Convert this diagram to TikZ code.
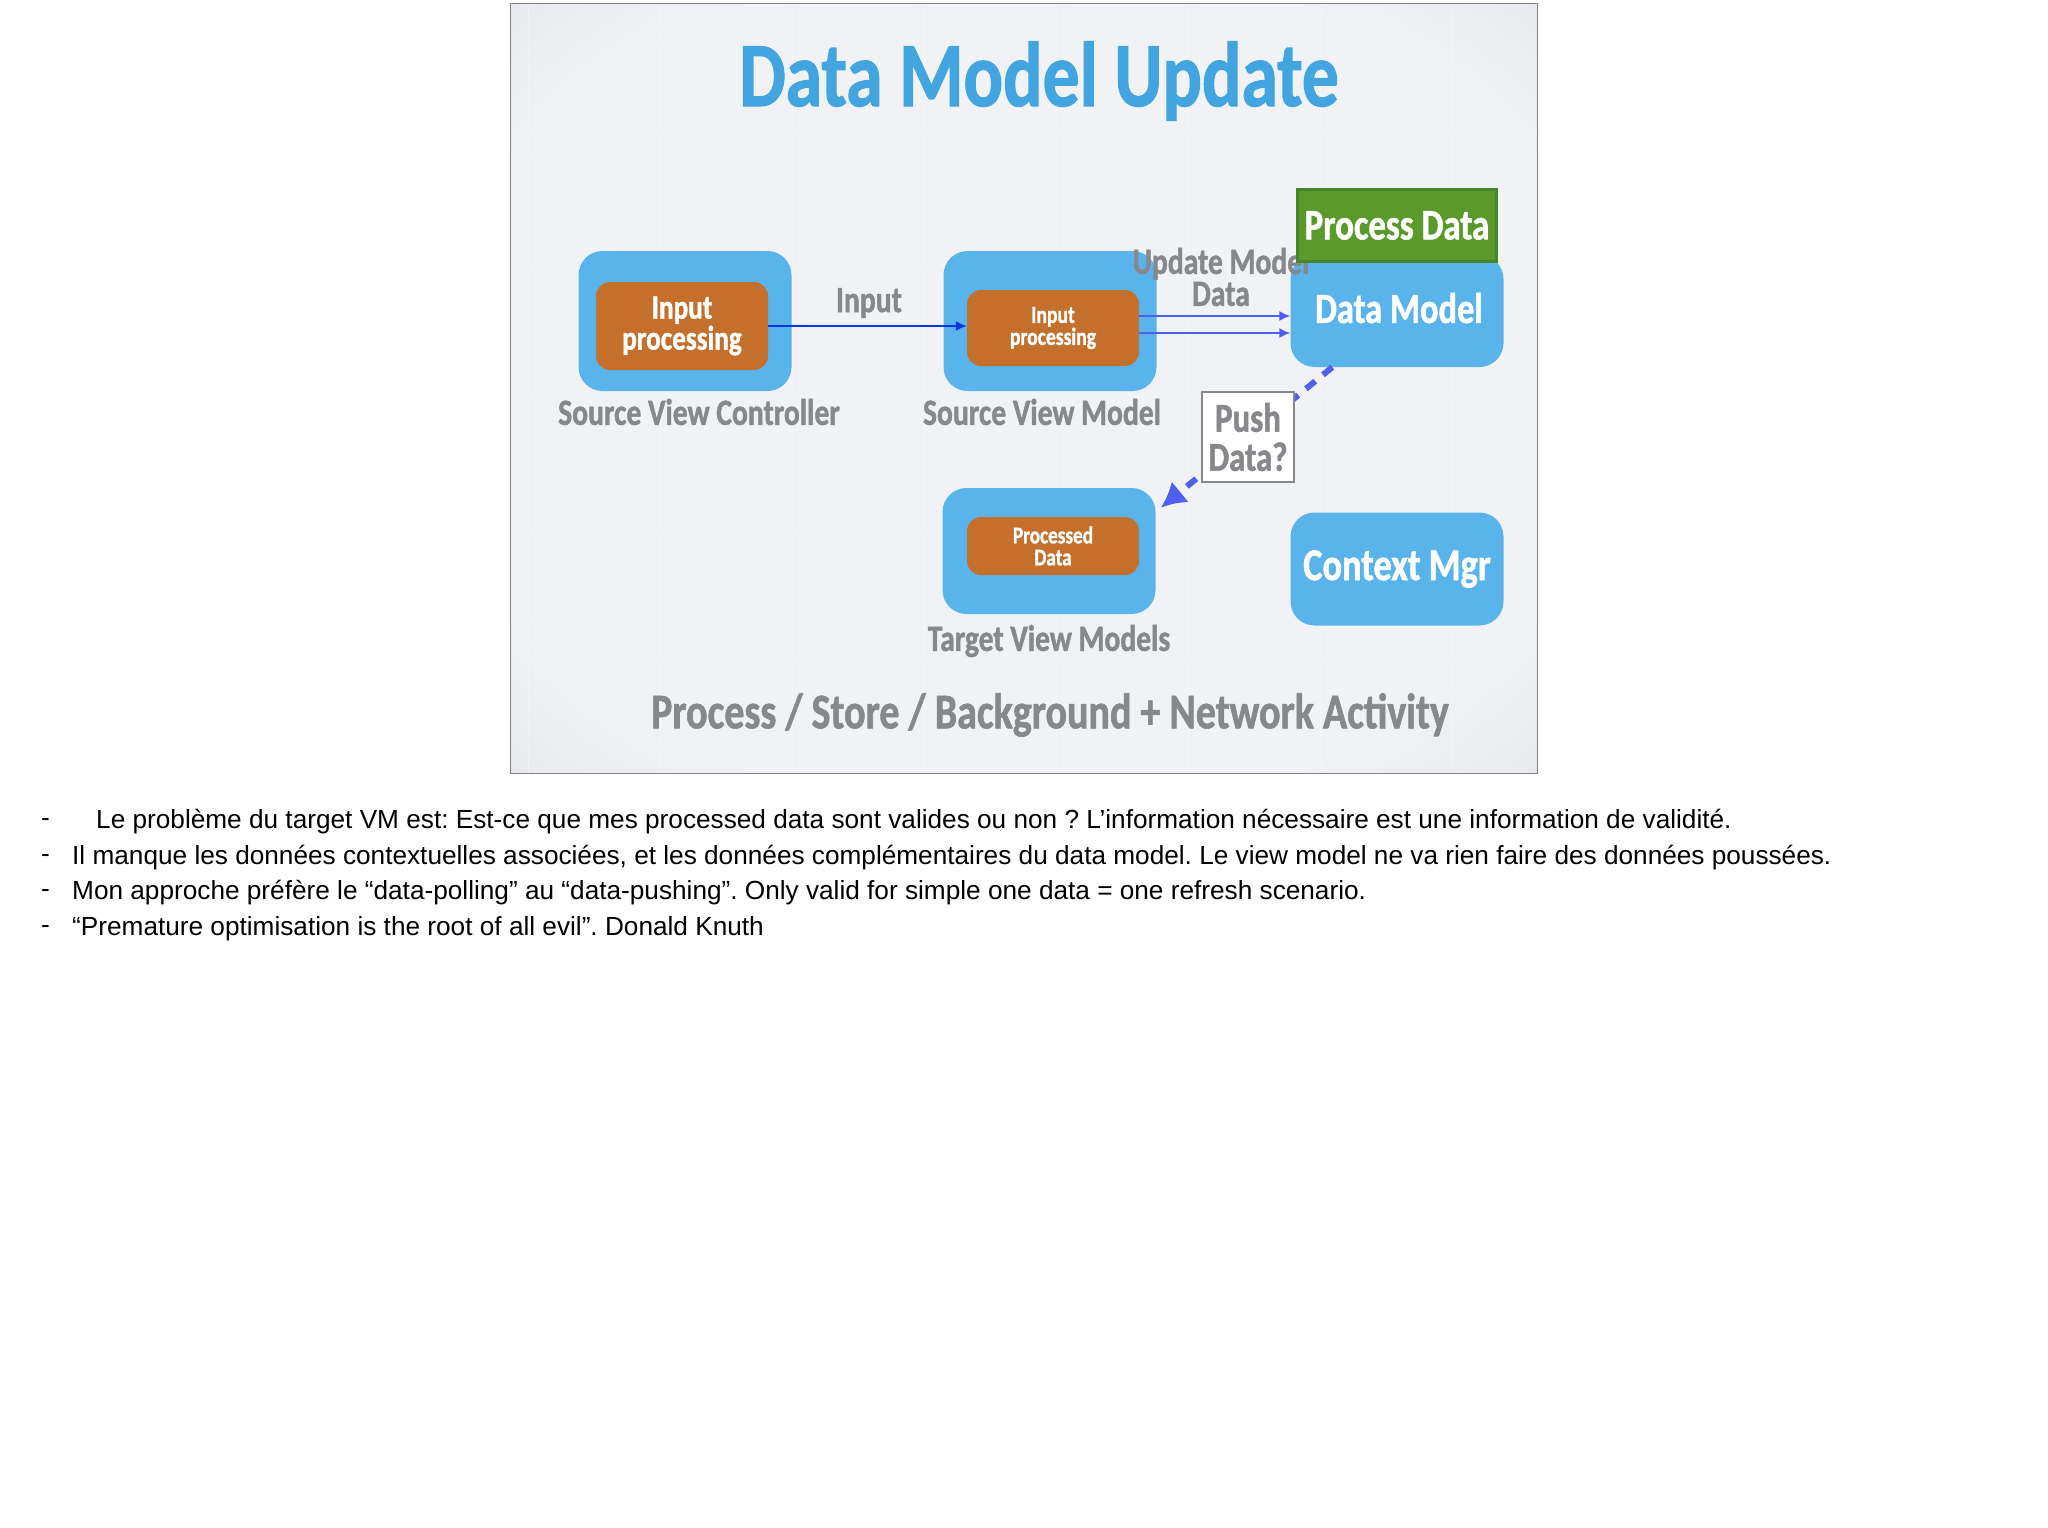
\documentclass[tikz,border=0pt]{standalone}
\usepackage{fontspec}
\usepackage{tikz}
\usetikzlibrary{arrows.meta,positioning}
\setmainfont{Liberation Sans}
\newfontfamily\handfont[FakeStretch=0.8,FakeBold=1.2]{Carlito Bold}
\newcommand{\hand}[2]{\handfont\fontsize{#1}{#2}\selectfont}
\definecolor{skyblue}{HTML}{5AB4EC}
\definecolor{titleblue}{HTML}{42A5DF}
\definecolor{rust}{HTML}{C4702C}
\definecolor{leaf}{HTML}{5A9A2A}
\definecolor{leafdark}{HTML}{47852A}
\definecolor{ink}{HTML}{87888B}
\definecolor{wire}{HTML}{0A34E8}
\definecolor{softwire}{HTML}{4F5FEE}
\definecolor{paper}{HTML}{F0F2F5}
\definecolor{rim}{HTML}{E7E8EB}
\definecolor{corner}{HTML}{D8D9DC}
\pgfdeclareradialshading{vignette}{\pgfpoint{0bp}{0bp}}{color(0bp)=(paper); color(28bp)=(paper); color(37bp)=(rim); color(50bp)=(corner)}
\tikzset{
  outerbox/.style={fill=skyblue, rounded corners=24pt, minimum width=213pt, inner sep=0pt},
  innerbox/.style={fill=rust, rounded corners=14pt, inner sep=0pt, minimum width=172pt},
  caption/.style={text=ink, font=\hand{37}{37}},
  whitetext/.style={text=white, align=center},
  note/.style={anchor=west, inner sep=0pt, font=\fontsize{26.2}{30}\selectfont\frenchspacing},
}

\begin{document}
\begin{tikzpicture}[x=1pt, y=-1pt, >={Latex[length=11pt,width=10pt]}]
  \useasboundingbox (0,0) rectangle (2048,1527);

  % slide
  \node (slide) [minimum width=1026pt, minimum height=769pt, inner sep=0pt] at (1024,388.5) {};
  \shade [shading=vignette] (slide.north west) rectangle (slide.south east);
  \draw [white, opacity=0.25, line width=1pt, step=132pt] (slide.north west) grid (slide.south east);
  \draw [gray, line width=1pt] (slide.north west) rectangle (slide.south east);

  \node (title) [text=titleblue, font=\hand{92}{92}] at (1039,81) {Data Model Update};

  % boxes
  \node (svc) [outerbox, minimum height=140pt] at (685,321) {};
  \node (svm) [outerbox, minimum height=140pt] at (1050,321) {};
  \node (target) [outerbox, minimum height=126pt] at (1049,551) {};
  \node (datamodel) [outerbox, minimum height=112pt] at (1397,311) {};
  \node (contextmgr) [outerbox, minimum height=113pt, whitetext, font=\hand{45.5}{45.5}] at (1397,569) {Context Mgr};

  \node (svcinput) [innerbox, minimum height=88pt, whitetext, font=\hand{34}{31}] at (682,326) {Input\\processing};
  \node (svminput) [innerbox, minimum height=76pt, whitetext, font=\hand{24.5}{22}] at (1053,328) {Input\\processing};
  \node (targetdata) [innerbox, minimum height=58pt, whitetext, font=\hand{24}{22}] at (1053,546) {Processed\\Data};

  \node (datalabel) [whitetext, font=\hand{43}{43}] at (1399,308) {Data Model};

  % wires
  \path [->, wire, line width=1.5pt] (svcinput.east) edge (svminput.west |- svcinput.east);
  \path [->, softwire, line width=1.5pt] ([yshift=12pt]svminput.east) edge ([yshift=-5pt]datamodel.west);
  \path [->, softwire, line width=1.5pt] ([yshift=-5pt]svminput.east) edge ([yshift=-22pt]datamodel.west);
  \path [softwire, line width=6pt, dash pattern=on 12pt off 10pt, -{Latex[length=25pt,width=27pt]}]
    ([xshift=42pt]datamodel.south west) edge ([xshift=5pt,yshift=-20pt]target.north east);

  % labels
  \node (inputlabel) [caption] at (869,303) {Input};
  \node (updatelabel) [caption, align=center, font=\hand{37}{32}] at (1221,277) {Update Model\\Data};
  \node (svclabel) [caption] at (699,412) {Source View Controller};
  \node (svmlabel) [caption] at (1042,412) {Source View Model};
  \node (targetlabel) [caption] at (1049,641) {Target View Models};
  \node (bottomlabel) [caption, font=\hand{50}{50}] at (1050,715) {Process / Store / Background + Network Activity};

  \node (process) [fill=leaf, draw=leafdark, line width=3pt, minimum width=199pt, minimum height=72pt,
    inner sep=0pt, whitetext, font=\hand{43.5}{43.5}] at (1397,225.5) {Process Data};
  \node (push) [fill=white, draw=ink, line width=2.5pt, minimum width=92pt, minimum height=90pt, inner sep=0pt,
    align=center, text=ink, font=\hand{41}{39}] at (1248,437) {Push\\Data?};

  % notes
  \node (dash1) [note] at (41,822) {-};
  \node (dash2) [note] at (41,858) {-};
  \node (dash3) [note] at (41,893) {-};
  \node (dash4) [note] at (41,929) {-};
  \node (note1) [note] at (96,822) {Le problème du target VM est: Est-ce que mes processed data sont valides ou non ? L’information nécessaire est une information de validité.};
  \node (note2) [note] at (72,858) {Il manque les données contextuelles associées, et les données complémentaires du data model. Le view model ne va rien faire des données poussées.};
  \node (note3) [note] at (72,893) {Mon approche préfère le “data-polling” au “data-pushing”. Only valid for simple one data = one refresh scenario.};
  \node (note4) [note] at (72,929) {“Premature optimisation is the root of all evil”. Donald Knuth};
\end{tikzpicture}
\end{document}
